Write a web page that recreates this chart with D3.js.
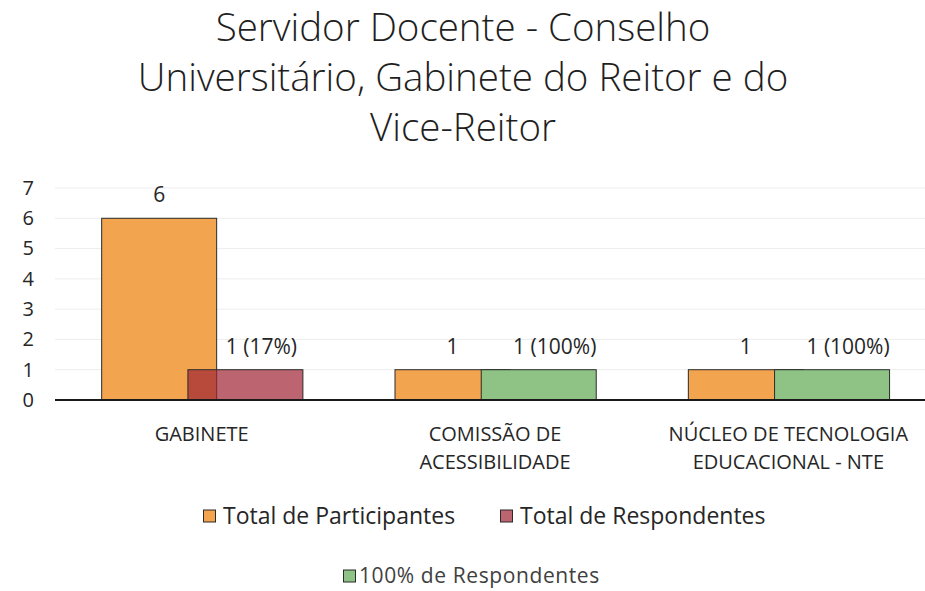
<!DOCTYPE html>
<html>
<head>
<meta charset="utf-8">
<script src="https://cdn.jsdelivr.net/npm/d3@7"></script>
<style>
  body { margin: 0; background: #fff; }
  svg { display: block; font-family: "Open Sans", "Liberation Sans", sans-serif; }
</style>
</head>
<body>
<svg id="chart" width="925" height="591"></svg>
<script>
(function() {

// chart data
const titleLines = ['Servidor Docente - Conselho', 'Universitário, Gabinete do Reitor e do', 'Vice-Reitor'];
const categories = ['GABINETE', 'COMISSÃO DE ACESSIBILIDADE', 'NÚCLEO DE TECNOLOGIA EDUCACIONAL - NTE'];
const categoryLines = [['GABINETE'], ['COMISSÃO DE', 'ACESSIBILIDADE'], ['NÚCLEO  DE TECNOLOGIA', 'EDUCACIONAL - NTE']];
const participantes = [6, 1, 1];
const respondentes = [1, 1, 1];
const respondentLabels = ['1 (17%)', '1 (100%)', '1 (100%)'];
const yTicks = [0, 1, 2, 3, 4, 5, 6, 7];
const seriesNames = ['Total de Participantes', 'Total de Respondentes', '100% de Respondentes'];

const colors = {
    'Total de Participantes': '#f2a44f',
    'Total de Respondentes': 'rgba(160,36,51,0.7)',
    '100% de Respondentes': '#8fc386'
};

var svg = d3.select('#chart');

var x = d3.scaleBand()
    .domain(categories)
    .range([55, 935])
    .padding(0);

var y = d3.scaleLinear()
    .domain([0, 7])
    .range([400, 188]);

var bw = x.bandwidth(),
    barW = bw * 0.392,
    step = barW * 0.75;

// title
svg.append('g')
    .selectAll('text')
    .data(titleLines)
  .enter().append('text')
    .attr('x', 463)
    .attr('y', function(d, i) { return 41 + i * 50; })
    .attr('text-anchor', 'middle')
    .attr('font-size', 38.5)
    .attr('font-weight', 300)
    .attr('fill', '#1f1f1f')
    .text(function(d) { return d; });

// gridlines
svg.append('g')
    .selectAll('line')
    .data(yTicks.slice(1))
  .enter().append('line')
    .attr('x1', 55)
    .attr('x2', 925)
    .attr('y1', function(d) { return y(d); })
    .attr('y2', function(d) { return y(d); })
    .attr('stroke', '#ededed')
    .attr('stroke-width', 1);

// y axis labels
var yAxis = svg.append('g')
    .attr('transform', 'translate(34,0)')
    .call(d3.axisLeft(y).tickValues(yTicks).tickFormat(d3.format('d')).tickSize(0).tickPadding(0));
yAxis.select('.domain').remove();
yAxis.selectAll('text')
    .attr('font-size', 20)
    .attr('font-family', '"Open Sans", sans-serif')
    .attr('fill', '#262626');

// bars
var bars = svg.append('g');

bars.selectAll('.part')
    .data(participantes)
  .enter().append('rect')
    .attr('class', 'part')
    .attr('x', function(d, i) { return x(categories[i]) + bw / 2 - 100; })
    .attr('y', function(d) { return y(d); })
    .attr('width', barW)
    .attr('height', function(d) { return y(0) - y(d); })
    .attr('fill', colors['Total de Participantes'])
    .attr('stroke', '#2b2b2b')
    .attr('stroke-width', 1);

bars.selectAll('.resp')
    .data(respondentes)
  .enter().append('rect')
    .attr('class', 'resp')
    .attr('x', function(d, i) { return x(categories[i]) + bw / 2 - 100 + step; })
    .attr('y', function(d) { return y(d); })
    .attr('width', barW)
    .attr('height', function(d) { return y(0) - y(d); })
    .attr('fill', function(d, i) {
        return respondentLabels[i].indexOf('100%') >= 0 ? colors['100% de Respondentes'] : colors['Total de Respondentes'];
    })
    .attr('stroke', '#2b2b2b')
    .attr('stroke-width', 1);

// value labels
bars.selectAll('.part-label')
    .data(participantes)
  .enter().append('text')
    .attr('class', 'part-label')
    .attr('x', function(d, i) { return x(categories[i]) + bw / 2 - 100 + barW / 2; })
    .attr('y', function(d) { return y(d) - 16; })
    .attr('text-anchor', 'middle')
    .attr('font-size', 21)
    .attr('fill', '#262626')
    .text(function(d) { return d; });

bars.selectAll('.resp-label')
    .data(respondentes)
  .enter().append('text')
    .attr('class', 'resp-label')
    .attr('x', function(d, i) { return x(categories[i]) + bw / 2 - 100 + step + barW / 2 + 16; })
    .attr('y', function(d) { return y(d) - 16; })
    .attr('text-anchor', 'middle')
    .attr('font-size', 21)
    .attr('fill', '#262626')
    .text(function(d, i) { return respondentLabels[i]; });

// x axis line
svg.append('line')
    .attr('x1', 55)
    .attr('x2', 925)
    .attr('y1', y(0))
    .attr('y2', y(0))
    .attr('stroke', '#1a1a1a')
    .attr('stroke-width', 2);

// category labels
var catG = svg.append('g')
    .selectAll('text')
    .data(categories)
  .enter().append('text')
    .attr('text-anchor', 'middle')
    .attr('font-size', 20)
    .attr('fill', '#262626');

catG.selectAll('tspan')
    .data(function(d, i) { return categoryLines[i].map(function(l) { return {line: l, cat: d}; }); })
  .enter().append('tspan')
    .attr('x', function(d) { return x(d.cat) + bw / 2; })
    .attr('y', function(d, j) { return 441 + j * 28; })
    .text(function(d) { return d.line; });

// legend
var legendItems = [
    {name: seriesNames[0], x: 203, y: 516, size: 23, color: '#262626', tx: 20, ls: 0},
    {name: seriesNames[1], x: 500, y: 516, size: 23, color: '#262626', tx: 20, ls: 0},
    {name: seriesNames[2], x: 343, y: 576, size: 21, color: '#404040', tx: 16, ls: 0.6}
];

var legend = svg.append('g')
    .selectAll('g')
    .data(legendItems)
  .enter().append('g')
    .attr('transform', function(d) { return 'translate(' + d.x + ',' + d.y + ')'; });

legend.append('rect')
    .attr('x', 0.5)
    .attr('y', -6)
    .attr('width', 12)
    .attr('height', 12)
    .attr('fill', function(d) { return colors[d.name]; })
    .attr('stroke', '#2b2b2b')
    .attr('stroke-width', 1);

legend.append('text')
    .attr('x', function(d) { return d.tx; })
    .attr('dy', '0.35em')
    .attr('font-size', function(d) { return d.size; })
    .attr('letter-spacing', function(d) { return d.ls; })
    .attr('fill', function(d) { return d.color; })
    .text(function(d) { return d.name; });

})();
</script>
</body>
</html>
